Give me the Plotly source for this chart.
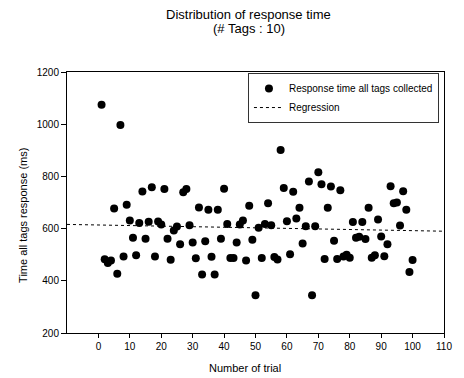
import plotly.graph_objects as go

trials = list(range(1, 101))
response_ms = [
    1075, 483, 468, 478, 677, 427, 997, 493, 691, 631,
    565, 498, 621, 742, 561, 626, 758, 493, 627, 616,
    752, 561, 481, 593, 608, 540, 739, 752, 613, 547,
    486, 681, 424, 552, 672, 492, 424, 672, 561, 753,
    618, 487, 487, 547, 616, 631, 478, 688, 557, 345,
    603, 487, 618, 697, 613, 491, 482, 901, 756, 628,
    502, 741, 639, 680, 543, 609, 780, 345, 609, 816,
    770, 484, 680, 761, 553, 484, 747, 493, 500, 488,
    625, 565, 569, 625, 560, 680, 488, 498, 635, 570,
    494, 540, 762, 697, 700, 612, 743, 672, 434, 480,
]
reg_x = [-10, 110]
reg_y = [616, 590]

x_ticks = list(range(0, 111, 10))
y_ticks = list(range(200, 1201, 200))

FONT = "Liberation Sans, Arial, sans-serif"

fig = go.Figure()
fig.add_trace(go.Scatter(
    x=trials, y=response_ms, mode="markers",
    name="Response time all tags collected",
    marker=dict(color="black", size=8),
))
fig.add_trace(go.Scatter(
    x=reg_x, y=reg_y, mode="lines", name="Regression",
    line=dict(color="black", width=1, dash="dot"),
))

fig.update_layout(
    width=464, height=378,
    margin=dict(l=67, r=13, t=72, b=45),
    paper_bgcolor="white", plot_bgcolor="white",
    font=dict(family=FONT, color="black", size=10),
    showlegend=True,
    legend=dict(
        x=0.48, y=0.996, xanchor="left", yanchor="top",
        bgcolor="white", bordercolor="#333", borderwidth=1,
        font=dict(family=FONT, size=10, color="black"),
        tracegroupgap=0,
    ),
    xaxis=dict(
        range=[-10, 110], tickvals=x_ticks, ticktext=[str(v) for v in x_ticks],
        showline=True, linecolor="black", linewidth=1, mirror=True,
        ticks="outside", ticklen=4, tickcolor="black",
        showgrid=False, zeroline=False,
        tickfont=dict(family=FONT, size=10, color="black"),
    ),
    yaxis=dict(
        range=[200, 1200], tickvals=y_ticks, ticktext=[str(v) for v in y_ticks],
        showline=True, linecolor="black", linewidth=1, mirror=True,
        ticks="outside", ticklen=5, tickcolor="black",
        showgrid=False, zeroline=False,
        tickfont=dict(family=FONT, size=10, color="black"),
    ),
    annotations=[
        dict(text="Distribution of response time", xref="paper", yref="paper",
             x=0.482, y=1.222, xanchor="center", yanchor="middle", showarrow=False,
             font=dict(family=FONT, size=13, color="black")),
        dict(text="(# Tags : 10)", xref="paper", yref="paper",
             x=0.482, y=1.168, xanchor="center", yanchor="middle", showarrow=False,
             font=dict(family=FONT, size=13, color="black")),
        dict(text="Number of trial", xref="paper", yref="paper",
             x=0.473, y=-0.135, xanchor="center", yanchor="middle", showarrow=False,
             font=dict(family=FONT, size=11, color="black")),
        dict(text="Time all tags response (ms)", xref="paper", yref="paper",
             x=-0.117, y=0.452, xanchor="center", yanchor="middle", showarrow=False,
             textangle=-90, font=dict(family=FONT, size=11, color="black")),
    ],
)

fig.write_html("out.html")
